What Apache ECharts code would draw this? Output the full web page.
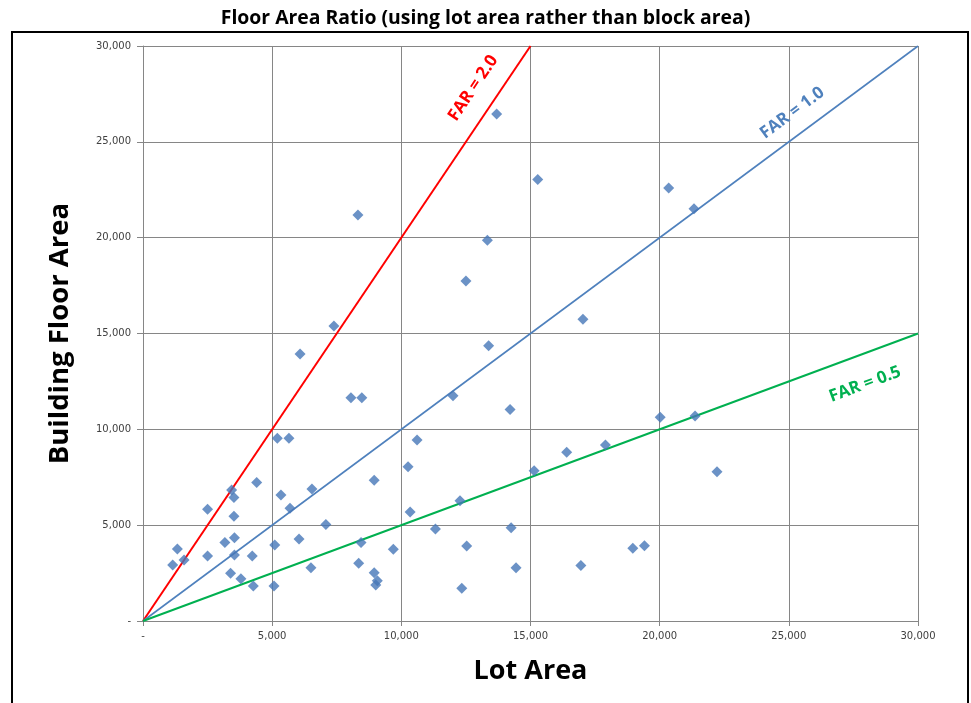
<!DOCTYPE html>
<html><head><meta charset="utf-8">
<script src="https://cdn.jsdelivr.net/npm/echarts@6/dist/echarts.min.js"></script>
<style>html,body{margin:0;padding:0;background:#fff}#c{width:971px;height:703px}</style>
</head><body><div id="c"></div>
<script>
const titleText = 'Floor Area Ratio (using lot area rather than block area)';
const xTitle = 'Lot Area';
const yTitle = 'Building Floor Area';
const axisTicks = [0, 5000, 10000, 15000, 20000, 25000, 30000];
const lotArea = [5200,5650,4400,3430,3520,2500,3520,5340,6540,5690,7080,8950,3170,3540,1330,1150,1590,2500,3540,4230,3390,3790,4270,5070,5100,6040,6500,8440,8350,8950,9070,9010,9690,8050,8470,12000,14210,10610,10260,10340,12270,11320,12530,14250,14440,12340,15140,16400,17900,16950,20020,21370,22220,18960,19410,13690,15280,20350,21330,13330,17030,13380,8320,12500,7390,6080];
const floorArea = [9530,9530,7230,6830,6450,5830,5460,6570,6890,5880,5040,7350,4100,4350,3760,2920,3180,3390,3440,3390,2490,2210,1830,1830,3960,4280,2780,4100,3010,2520,2100,1880,3740,11650,11650,11750,11040,9440,8050,5690,6280,4800,3910,4870,2780,1710,7840,8800,9180,2900,10630,10690,7790,3790,3930,26450,23040,22590,21510,19870,15750,14360,21180,17740,15390,13930];
const farLines = [
  {name:'FAR = 2.0', ratio:2.0, color:'#FF0000', width:2, label:[12780,27800], rot:56.2},
  {name:'FAR = 1.0', ratio:1.0, color:'#4F81BD', width:1.6, label:[25130,26500], rot:36.6},
  {name:'FAR = 0.5', ratio:0.5, color:'#00B050', width:2, label:[27950,12350], rot:20.4}
];
const fmt = v => v === 0 ? '-' : v.toLocaleString('en-US');
const chart = echarts.init(document.getElementById('c'));
const lineSeries = farLines.map(f => {
  const xEnd = Math.min(30000, 30000 / f.ratio);
  return {type:'line', name:f.name, data:[[0,0],[xEnd, xEnd*f.ratio]], symbol:'none',
    lineStyle:{color:f.color, width:f.width}, z:3, silent:true};
});
chart.setOption({
  animation:false,
  title:{text:titleText, left:'center', top:4, textStyle:{fontFamily:'Open Sans', fontWeight:'bold', fontSize:19.4, color:'#000'}},
  grid:{left:143, right:53, top:46, bottom:82},
  xAxis:{type:'value', min:0, max:30000, interval:5000,
    name:xTitle, nameLocation:'middle', nameGap:37,
    nameTextStyle:{fontFamily:'Open Sans', fontWeight:'bold', fontSize:27, color:'#000'},
    axisLine:{show:true, lineStyle:{color:'#868686'}},
    axisTick:{show:true, length:5, lineStyle:{color:'#868686'}},
    axisLabel:{formatter:fmt, fontFamily:'DejaVu Sans', fontSize:10, color:'#404040', margin:10},
    splitLine:{show:true, lineStyle:{color:'#868686', width:1}}},
  yAxis:{type:'value', min:0, max:30000, interval:5000,
    name:yTitle, nameLocation:'middle', nameGap:69, nameRotate:90,
    nameTextStyle:{fontFamily:'Open Sans', fontWeight:'bold', fontSize:27.5, color:'#000'},
    axisLine:{show:true, lineStyle:{color:'#868686'}},
    axisTick:{show:true, length:6, lineStyle:{color:'#868686'}},
    axisLabel:{formatter:fmt, fontFamily:'DejaVu Sans', fontSize:10, color:'#404040', margin:12},
    splitLine:{show:true, lineStyle:{color:'#868686', width:1}}},
  series:[...lineSeries, {type:'scatter', data:lotArea.map((x,i)=>[x, floorArea[i]]),
    symbol:'diamond', symbolSize:11, itemStyle:{color:'#4677B8'}, z:4}]
});
const g = [{type:'rect', shape:{x:12, y:32, width:956, height:700}, style:{fill:'none', stroke:'#000', lineWidth:2}, z:10}];
farLines.forEach(f => {
  const p = chart.convertToPixel({gridIndex:0}, f.label);
  g.push({type:'text', x:p[0], y:p[1], rotation:f.rot*Math.PI/180,
    style:{text:f.name, fill:f.color, font:'bold 17px "Open Sans"', align:'center', verticalAlign:'middle'}, z:10});
});
chart.setOption({graphic:g});
</script></body></html>
